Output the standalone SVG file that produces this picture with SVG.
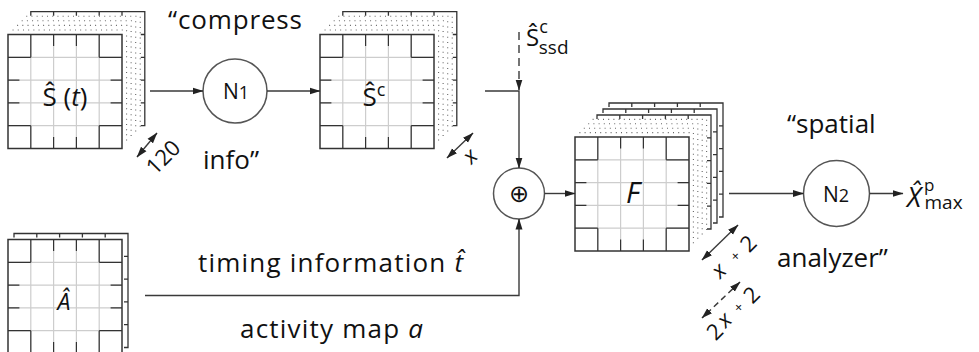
<svg xmlns="http://www.w3.org/2000/svg" xmlns:xlink="http://www.w3.org/1999/xlink" width="979" height="352" viewBox="0 0 979 352">
<style>
text{font-family:"Open Sans","Noto Sans","DejaVu Sans",sans-serif;fill:#111}
.ln{fill:none;stroke:#3a3a3a;stroke-width:1.4}
.dash{stroke-dasharray:8 5}
.node{fill:#fff;stroke:#555;stroke-width:1.5}
.it{font-style:italic}
</style>
<defs>
<marker id="ah" markerUnits="userSpaceOnUse" markerWidth="11" markerHeight="8" viewBox="0 0 11 8" refX="10.5" refY="4" orient="auto-start-reverse"><path d="M0,0.5L11,4L0,7.5z" fill="#222"/></marker>
<g id="grid">
<rect x="0" y="0" width="114" height="114" fill="#fff"/>
<path d="M22.8,0V114M45.6,0V114M68.4,0V114M91.2,0V114M0,22.8H114M0,45.6H114M0,68.4H114M0,91.2H114" fill="none" stroke="#cdcdcd" stroke-width="1.2"/>
<path d="M22.8,0V22.8M22.8,91.2V114M45.6,0V11.4M45.6,102.6V114M68.4,0V11.4M68.4,102.6V114M91.2,0V22.8M91.2,91.2V114M0,22.8H22.8M91.2,22.8H114M0,45.6H11.4M102.6,45.6H114M0,68.4H11.4M102.6,68.4H114M0,91.2H22.8M91.2,91.2H114" fill="none" stroke="#333" stroke-width="1.2"/>
<rect x="0" y="0" width="114" height="114" fill="none" stroke="#333" stroke-width="1.5"/>
</g>
<path id="back" d="M0,4V0H114V114H110M22.8,0V4M45.6,0V4M68.4,0V4M91.2,0V4M114,22.8H110M114,45.6H110M114,68.4H110M114,91.2H110" fill="none" stroke="#333" stroke-width="1.3"/>
<path id="dots" d="M0,0H114V114" fill="none" stroke="#666" stroke-width="1.1" stroke-dasharray="1 4.2"/>
</defs>

<g id="stack-s">
<use xlink:href="#back" href="#back" transform="translate(30.8,11.7)"/>
<use xlink:href="#dots" href="#dots" transform="translate(26.24,16.26)"/>
<use xlink:href="#dots" href="#dots" transform="translate(21.68,20.82)"/>
<use xlink:href="#dots" href="#dots" transform="translate(17.12,25.38)"/>
<use xlink:href="#dots" href="#dots" transform="translate(12.56,29.94)"/>
<use xlink:href="#grid" href="#grid" transform="translate(8,34.5)"/>
<text x="65" y="106" font-size="26" text-anchor="middle">Ŝ (<tspan class="it">t</tspan>)</text>
</g>

<g id="stack-sc">
<use xlink:href="#back" href="#back" transform="translate(342.8,11.7)"/>
<use xlink:href="#dots" href="#dots" transform="translate(338.24,16.26)"/>
<use xlink:href="#dots" href="#dots" transform="translate(333.68,20.82)"/>
<use xlink:href="#dots" href="#dots" transform="translate(329.12,25.38)"/>
<use xlink:href="#dots" href="#dots" transform="translate(324.56,29.94)"/>
<use xlink:href="#grid" href="#grid" transform="translate(320,34.5)"/>
<text x="374" y="106" font-size="26" text-anchor="middle">Ŝ<tspan font-size="18" dy="-10">c</tspan></text>
</g>

<g id="stack-a">
<use xlink:href="#back" href="#back" transform="translate(14,233.5)"/>
<use xlink:href="#grid" href="#grid" transform="translate(8,239.5)"/>
<text x="64" y="310" font-size="23" class="it" text-anchor="middle">Â</text>
</g>

<g id="stack-f">
<use xlink:href="#back" href="#back" transform="translate(609,103)"/>
<use xlink:href="#back" href="#back" transform="translate(603,109)"/>
<use xlink:href="#back" href="#back" transform="translate(597,115)"/>
<use xlink:href="#dots" href="#dots" transform="translate(592.6,119.4)"/>
<use xlink:href="#dots" href="#dots" transform="translate(588.2,123.8)"/>
<use xlink:href="#dots" href="#dots" transform="translate(583.8,128.2)"/>
<use xlink:href="#dots" href="#dots" transform="translate(579.4,132.6)"/>
<use xlink:href="#grid" href="#grid" transform="translate(575,137)"/>
<text x="633" y="203" font-size="29" class="it" text-anchor="middle">F</text>
</g>

<g id="node-n1">
<circle class="node" cx="235" cy="91" r="32"/>
<text x="236" y="99" font-size="21" text-anchor="middle">N<tspan font-size="18">1</tspan></text>
</g>

<g id="node-oplus">
<circle class="node" cx="519" cy="193.5" r="25.5"/>
<text x="519" y="201.5" font-size="24" text-anchor="middle" style="font-family:'DejaVu Sans',sans-serif">⊕</text>
</g>

<g id="node-n2">
<circle class="node" cx="836.5" cy="193.5" r="33"/>
<text x="836" y="202" font-size="21" text-anchor="middle">N<tspan font-size="18">2</tspan></text>
</g>

<g id="connectors">
<path class="ln" d="M150,91H203" marker-end="url(#ah)"/>
<path class="ln" d="M267,91H320" marker-end="url(#ah)"/>
<path class="ln dash" d="M519,32V90" marker-end="url(#ah)"/>
<path class="ln" d="M485,91H519V168" marker-end="url(#ah)"/>
<path class="ln" d="M544.5,193.5H575" marker-end="url(#ah)"/>
<path class="ln" d="M145,295.5H519V219" marker-end="url(#ah)"/>
<path class="ln" d="M729,193.5H803.5" marker-end="url(#ah)"/>
<path class="ln" d="M869.5,193.5H903" marker-end="url(#ah)"/>
<path class="ln" d="M157,133L137,157" marker-start="url(#ah)" marker-end="url(#ah)"/>
<path class="ln" d="M473,133L447,158" marker-start="url(#ah)" marker-end="url(#ah)"/>
<path class="ln" d="M738,225L702,260" marker-start="url(#ah)" marker-end="url(#ah)"/>
<path class="ln" d="M740,282L702,318" stroke-dasharray="6 4" marker-start="url(#ah)" marker-end="url(#ah)"/>
</g>

<g id="labels">
<text x="168" y="29" font-size="26" textLength="134" lengthAdjust="spacing">“compress</text>
<text x="203" y="169" font-size="26">info”</text>
<text x="787" y="133" font-size="26">“spatial</text>
<text x="777" y="267" font-size="26">analyzer”</text>
<text x="198" y="272" font-size="26" textLength="265" lengthAdjust="spacing">timing information <tspan class="it">t̂</tspan></text>
<text x="240" y="338" font-size="26" textLength="183" lengthAdjust="spacing">activity map <tspan class="it">a</tspan></text>
<text x="526" y="46" font-size="24">Ŝ<tspan font-size="18" dy="-13">c</tspan><tspan font-size="19" dx="-9" dy="21">ssd</tspan></text>
<text x="907" y="207" font-size="27" class="it">X̂<tspan font-size="17" dx="3" dy="-16" font-style="normal">p</tspan><tspan font-size="19" dx="-10" dy="18" font-style="normal">max</tspan></text>
<text transform="translate(163,157) rotate(-45)" font-size="22" text-anchor="middle" y="8">120</text>
<text transform="translate(471,157) rotate(-45)" font-size="22" text-anchor="middle" y="6" class="it">x</text>
<text transform="translate(734,257.5) rotate(-45)" font-size="22" text-anchor="middle"><tspan x="-20" y="6" class="it">x</tspan><tspan x="2" y="5" font-size="14">+</tspan><tspan x="20" y="8">2</tspan></text>
<text transform="translate(733,313) rotate(-45)" font-size="22" text-anchor="middle"><tspan x="-26" y="8">2</tspan><tspan x="-11" y="6" class="it">x</tspan><tspan x="8" y="5" font-size="14">+</tspan><tspan x="26" y="8">2</tspan></text>
</g>
</svg>
